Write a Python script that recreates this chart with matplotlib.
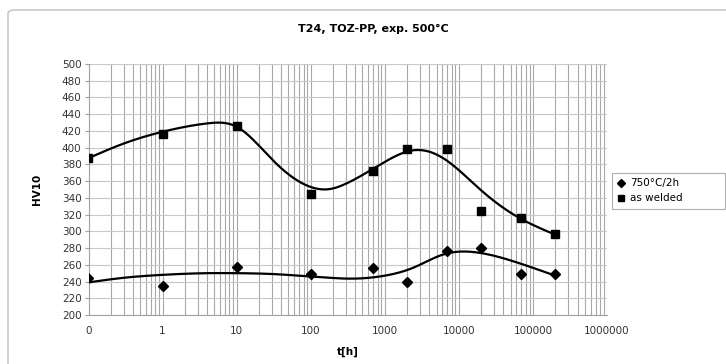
import numpy as np
import matplotlib
matplotlib.use('Agg')
import matplotlib.pyplot as plt
from matplotlib.patches import FancyBboxPatch, Rectangle
from matplotlib.ticker import FixedLocator, NullFormatter, LogLocator

# measured points ("0" h is drawn at the 0.1 position of the log axis)
t_h = [0.1, 1, 10, 100, 700, 2000, 7000, 20000, 70000, 200000]
hv_750 = [244, 235, 257, 249, 256, 239, 276, 280, 249, 249]
hv_welded = [388, 416, 426, 345, 372, 398, 398, 324, 316, 297]

# trend curves
trend_t = [0.1, 0.3, 1, 4, 10, 30, 100, 180, 300, 1000, 2500, 6000, 20000, 60000, 200000]
trend_750 = [239, 244.5, 248, 250, 250, 249, 246, 244.5, 243.5, 247, 257, 272, 274, 263, 247]
trend_welded = [387.5, 405, 419, 429, 425, 386, 353, 350.5, 357, 383, 397, 388, 349, 318, 296]

x_ticks = [0.1, 1, 10, 100, 1000, 10000, 100000, 1000000]
x_labels = ['0', '1', '10', '100', '1000', '10000', '100000', '1000000']
y_ticks = list(range(200, 501, 20))


def natural_spline(x, y, xs):
    x = np.asarray(x, float)
    y = np.asarray(y, float)
    n = len(x)
    h = np.diff(x)
    A = np.zeros((n, n))
    r = np.zeros(n)
    A[0, 0] = A[-1, -1] = 1
    for i in range(1, n - 1):
        A[i, i - 1] = h[i - 1]
        A[i, i] = 2 * (h[i - 1] + h[i])
        A[i, i + 1] = h[i]
        r[i] = 3 * ((y[i + 1] - y[i]) / h[i] - (y[i] - y[i - 1]) / h[i - 1])
    c = np.linalg.solve(A, r)
    b = (y[1:] - y[:-1]) / h - h * (2 * c[:-1] + c[1:]) / 3
    d = (c[1:] - c[:-1]) / (3 * h)
    idx = np.clip(np.searchsorted(x, xs) - 1, 0, n - 2)
    dx = xs - x[idx]
    return y[idx] + b[idx] * dx + c[idx] * dx ** 2 + d[idx] * dx ** 3


fig = plt.figure(figsize=(7.26, 3.64), dpi=100)
fig.patches.append(FancyBboxPatch((8/726, -0.2), 1.2, 1 - 10/364 + 0.2,
                                  boxstyle="round,pad=0,rounding_size=0.01",
                                  transform=fig.transFigure, fill=False,
                                  edgecolor='#c8c8c8', linewidth=1.2))
ax = fig.add_axes([88.5/726, 1 - 315/364, (607 - 88.5)/726, (315 - 64)/364])
ax.set_xscale('log')
ax.set_xlim(0.1, 1e6)
ax.set_ylim(200, 500)

lt = np.log10(trend_t)
xs = np.linspace(lt.min(), lt.max(), 500)
for vals in (trend_750, trend_welded):
    ax.plot(10 ** xs, natural_spline(lt, vals, xs), color='black', lw=1.6, zorder=3)

ax.plot(t_h, hv_750, linestyle='none', marker='D', ms=5, color='black',
        label='750°C/2h', zorder=4)
ax.plot(t_h, hv_welded, linestyle='none', marker='s', ms=6, color='black',
        label='as welded', zorder=4)

ax.xaxis.set_major_locator(FixedLocator(x_ticks))
ax.set_xticklabels(x_labels)
ax.xaxis.set_minor_locator(LogLocator(base=10, subs=np.arange(2, 10), numticks=50))
ax.xaxis.set_minor_formatter(NullFormatter())
ax.set_yticks(y_ticks)
ax.grid(True, which='major', axis='y', color='#c8c8c8', lw=0.8)
ax.grid(True, which='both', axis='x', color='#a8a8a8', lw=0.8)
ax.set_axisbelow(True)
for s in ('top', 'right'):
    ax.spines[s].set_visible(False)
for s in ('left', 'bottom'):
    ax.spines[s].set_color('#a0a0a0')
ax.tick_params(axis='y', length=3, color='#a0a0a0', labelsize=7.5, labelcolor='#333333', pad=2)
ax.tick_params(axis='x', which='both', length=0, labelsize=7.5, labelcolor='#333333', pad=8)
ax.set_xlabel('t[h]', fontsize=7.5, fontweight='bold', labelpad=8)
ax.set_ylabel('HV10', fontsize=7.5, fontweight='bold', labelpad=14)
fig.text(373/726, 1 - 29/364, 'T24, TOZ-PP, exp. 500°C', ha='center', va='center',
         fontsize=8, fontweight='bold')
fig.patches.append(Rectangle((612/726, 1 - 209/364), 113/726, 36/364,
                             transform=fig.transFigure, fill=True, facecolor='white',
                             edgecolor='#b0b0b0', linewidth=0.8, zorder=1))
leg = fig.legend(loc='upper left', bbox_to_anchor=(612/726, 1 - 173/364),
                 borderaxespad=0, frameon=False, fontsize=7.5,
                 handlelength=0.8, handletextpad=0.4, borderpad=0.5,
                 labelspacing=0.5, markerscale=0.8)
fig.savefig('out.png', dpi=100)
